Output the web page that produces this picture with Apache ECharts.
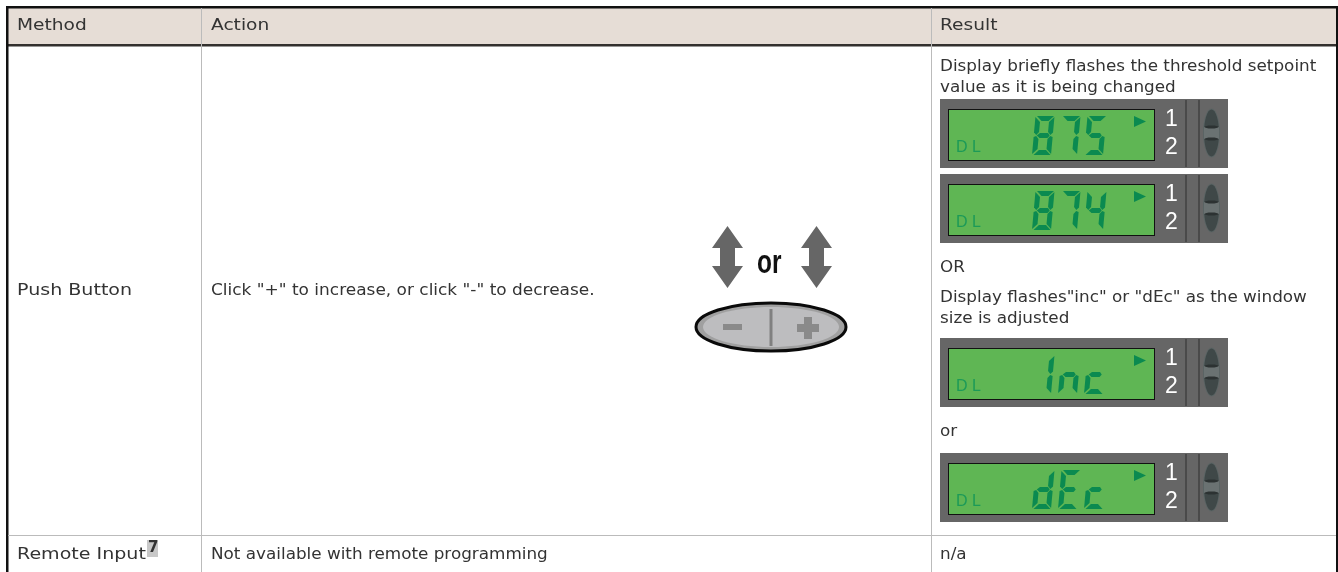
<!DOCTYPE html>
<html>
<head>
<meta charset="utf-8">
<title>Push button table</title>
<script src="https://cdn.jsdelivr.net/npm/echarts@6/dist/echarts.min.js"></script>
<style>
  html, body { margin: 0; padding: 0; background: #fff; }
  #chart { width: 1338px; height: 572px; }
</style>
</head>
<body>
<div id="chart"></div>
<script>
const headers = ["Method", "Action", "Result"];
const methods = ["Push Button", "Remote Input"];
const actions = ['Click "+" to increase, or click "-" to decrease.', "Not available with remote programming"];
const lastResult = "n/a";
const footnote = "7";
const resultTextsTop = ["Display briefly flashes the threshold setpoint", "value as it is being changed"];
const resultTextsMid = ["OR", 'Display flashes"inc" or "dEc" as the window', "size is adjusted"];
const resultTextsLow = ["or"];
const readings = ["875", "874", "inc", "dEc"];

const TEXT_FONT = '15px "DejaVu Sans"';
const TEXT_COLOR = "#333333";
const BODY_STRETCH = 1.12;
const HEAD_STRETCH = 1.24;
const LABEL_STRETCH = 1.27;
const colX = [17, 211, 940];
const displayY = [99, 174, 338, 453];

// which segments are lit per character
const lit = {
  "8": "abcdefg", "7": "abc", "5": "afgcd", "4": "fgbc",
  i: "bc", n: "egc", c: "ged", d: "bcdeg", E: "adefg",
};
// segment outlines before the slant, digit box 18.5 x 39
const segs = {
  a: [[1.5, 0], [18.5, 0], [13.5, 5], [6.5, 5]],
  b: [[19, 1], [19, 16.5], [16.5, 19], [14, 16], [14, 6]],
  c: [[19, 21], [19, 38], [14, 33], [14, 23], [16.5, 20]],
  d: [[1.5, 39], [18.5, 39], [13.5, 34], [6.5, 34]],
  e: [[0, 21], [0, 38], [5, 33], [5, 23], [2.5, 20]],
  f: [[0, 1], [0, 16.5], [2.5, 19], [5, 16], [5, 6]],
  g: [[3, 19.5], [6, 17], [14, 17], [16, 19.5], [14, 22], [6, 22]],
};

const els = [];
function rect(x, y, w, h, fill) {
  els.push({ type: "rect", shape: { x, y, width: w, height: h }, style: { fill } });
}
function text(x, y, str, font, fill, stretch) {
  els.push({
    type: "text", x, y, scaleX: stretch || 1,
    style: { text: str, font: font || TEXT_FONT, fill: fill || TEXT_COLOR, textAlign: "left", textVerticalAlign: "middle" },
  });
}
function poly(points, fill) {
  els.push({ type: "polygon", shape: { points }, style: { fill } });
}
function oval(cx, cy, rx, ry, style) {
  els.push({ type: "ellipse", shape: { cx, cy, rx, ry }, style });
}

function drawDigit(ch, left, top) {
  (lit[ch] || "").split("").forEach((s) => {
    const pts = segs[s].map((p) => [left + p[0] + (39 - p[1]) * 0.09, top + p[1]]);
    poly(pts, "#0b8a50");
  });
}

function drawDisplay(reading, y) {
  rect(940, y, 288, 69, "#666666");
  rect(948, y + 10, 207, 52, "#111111");
  rect(949, y + 11, 205, 50, "#5fb654");
  poly([[1134, y + 17], [1146, y + 22.5], [1134, y + 28]], "#0b8a50");
  text(956, y + 49, "D", '16px "Liberation Sans"', "#1c9a58");
  text(972, y + 49, "L", '16px "Liberation Sans"', "#1c9a58");
  reading.split("").forEach((ch, i) => drawDigit(ch, 1032 + i * 26, y + 17));
  text(1165, y + 21, "1", '23px "Liberation Sans"', "#ffffff");
  text(1165, y + 49, "2", '23px "Liberation Sans"', "#ffffff");
  rect(1185, y + 1, 2, 67, "#4a4a4a");
  rect(1198, y + 1, 2, 67, "#4a4a4a");
  oval(1211.5, y + 34, 8.5, 24.5, { fill: "#5a6464" });
  oval(1211.5, y + 34, 7.5, 23.5, { fill: "#3f4848" });
  rect(1204, y + 28, 15, 12, "#6a7272");
  oval(1211.5, y + 28, 7, 1.5, { fill: "#2c3232" });
  oval(1211.5, y + 40, 7, 1.5, { fill: "#2c3232" });
}

function drawArrow(x) {
  poly([
    [x + 15.5, 226], [x + 31, 248], [x + 23, 248], [x + 23, 266], [x + 31, 266],
    [x + 15.5, 288], [x, 266], [x + 8, 266], [x + 8, 248], [x, 248],
  ], "#666666");
}

// table frame
rect(8, 8, 1328, 36, "#e6ddd6");
rect(6, 6, 1332, 2.5, "#111111");
rect(6, 44, 1332, 2.5, "#33302e");
rect(6, 6, 2.5, 566, "#111111");
rect(1336, 6, 2, 566, "#111111");
rect(201, 8, 1, 564, "#bbbbbb");
rect(931, 8, 1, 564, "#bbbbbb");
rect(8, 535, 1328, 1, "#bbbbbb");

// header
headers.forEach((h, i) => text(colX[i], 26, h, null, null, HEAD_STRETCH));

// rows
text(colX[0], 291, methods[0], null, null, LABEL_STRETCH);
text(colX[1], 291, actions[0], null, null, 1.13);
text(colX[0], 555, methods[1], null, null, LABEL_STRETCH);
rect(147, 540, 11, 17, "#c8c8c8");
text(148, 548, footnote, 'bold 15px "DejaVu Sans"', "#333333");
text(colX[1], 555, actions[1], null, null, BODY_STRETCH);
text(colX[2], 555, lastResult, null, null, BODY_STRETCH);

// result column
resultTextsTop.forEach((t, i) => text(colX[2], 67 + i * 21, t, null, null, BODY_STRETCH));
text(colX[2], 268, resultTextsMid[0], null, null, BODY_STRETCH);
text(colX[2], 298, resultTextsMid[1], null, null, BODY_STRETCH);
text(colX[2], 319, resultTextsMid[2], null, null, BODY_STRETCH);
text(colX[2], 432, resultTextsLow[0], null, null, BODY_STRETCH);
readings.forEach((r, i) => drawDisplay(r, displayY[i]));

// push button drawing
drawArrow(712);
drawArrow(801);
text(757, 264, "or", 'bold 33px "Liberation Sans"', "#111111", 0.74);
oval(771, 327, 75, 24, { fill: "#a0a0a0", stroke: "#0a0a0a", lineWidth: 3 });
oval(771, 327, 68, 20, { fill: "#bdbdbf" });
rect(769.5, 309, 3, 37, "#808080");
rect(723, 324, 19, 6, "#8a8a8a");
rect(797, 324, 22, 8, "#8a8a8a");
rect(804, 317, 8, 22, "#8a8a8a");

const chart = echarts.init(document.getElementById("chart"));
chart.setOption({ animation: false, backgroundColor: "#ffffff", graphic: { elements: els } });
</script>
</body>
</html>
